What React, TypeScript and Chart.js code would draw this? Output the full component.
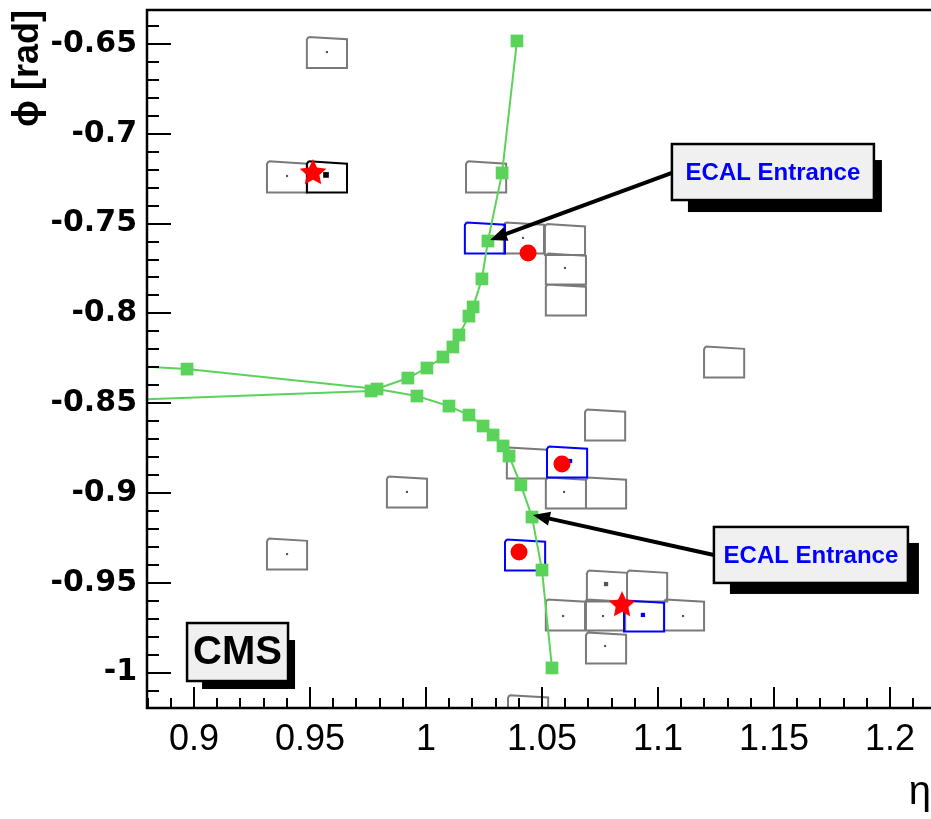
import React, { useEffect, useRef } from 'react';
import { Chart, registerables } from 'chart.js';

Chart.register(...registerables);

// ---------- axis ranges & ticks ----------
const X_MIN = 0.87974;
const X_MAX = 1.21767;
const Y_MIN = -1.01971;
const Y_MAX = -0.63107;

const xTickValues = [0.9, 0.95, 1.0, 1.05, 1.1, 1.15, 1.2];
const xTickLabels = ['0.9', '0.95', '1', '1.05', '1.1', '1.15', '1.2'];
const yTickValues = [-0.65, -0.7, -0.75, -0.8, -0.85, -0.9, -0.95, -1.0];
const yTickLabels = ['-0.65', '-0.7', '-0.75', '-0.8', '-0.85', '-0.9', '-0.95', '-1'];

// ---------- ECAL crystals (centres, eta / phi) ----------
const grayCellEta = [0.9573, 0.9401, 1.0259, 1.0422, 1.0599, 1.0603, 1.0603, 1.1285, 1.0772, 1.0435, 1.0603, 1.0776, 1.078, 1.0953, 1.0603, 1.0772, 1.1112, 1.0776, 0.9918, 0.9401, 1.044];
const grayCellPhi = [-0.6547, -0.724, -0.724, -0.758, -0.7589, -0.7753, -0.7925, -0.8271, -0.8621, -0.8833, -0.9, -0.9, -0.9518, -0.9518, -0.9679, -0.9679, -0.9679, -0.9863, -0.8994, -0.934, -1.0212];
const seedCellEta = [0.9573];
const seedCellPhi = [-0.724];
const blueCellEta = [1.0254, 1.0608, 1.0427, 1.094];
const blueCellPhi = [-0.758, -0.8827, -0.9345, -0.9685];

// energy deposits inside crystals
const hitEta = [0.9573, 0.9401, 1.0599, 1.0595, 1.0591, 1.0763, 1.1108, 1.0772, 0.9918, 0.9401, 1.0418];
const hitPhi = [-0.6545, -0.7235, -0.7747, -0.8994, -0.9685, -0.9685, -0.9685, -0.9852, -0.8994, -0.934, -0.758];
const bigHitEta = [1.0776];
const bigHitPhi = [-0.9507];
const blueHitEta = [1.0621, 1.0935];
const blueHitPhi = [-0.8822, -0.9679];
const seedHitEta = [0.9569];
const seedHitPhi = [-0.7229];

// ---------- tracks (green) ----------
const track1Eta = [0.8595, 0.9763, 0.9922, 1.0004, 1.0073, 1.0116, 1.0142, 1.0185, 1.0203, 1.0241, 1.0267, 1.0328, 1.0392];
const track1Phi = [-0.8488, -0.8432, -0.836, -0.8304, -0.8243, -0.8187, -0.812, -0.8015, -0.7964, -0.7808, -0.7597, -0.7218, -0.6483];
const track2Eta = [0.8595, 0.897, 0.9789, 0.9961, 1.0099, 1.0185, 1.0246, 1.0289, 1.0332, 1.0358, 1.0409, 1.0457, 1.05, 1.0543];
const track2Phi = [-0.8282, -0.831, -0.8421, -0.846, -0.8516, -0.8566, -0.8627, -0.8677, -0.8738, -0.8794, -0.8955, -0.9134, -0.9429, -0.9974];

// ---------- clusters ----------
const clusterEta = [1.044, 1.0586, 1.0401];
const clusterPhi = [-0.7664, -0.8838, -0.9328];
const seedStarEta = [0.9513, 1.0845];
const seedStarPhi = [-0.7218, -0.9624];

// ---------- annotations ----------
const arrowFromEta = [1.106, 1.1241];
const arrowFromPhi = [-0.7218, -0.9345];
const arrowToEta = [1.0276, 1.0461];
const arrowToPhi = [-0.7591, -0.9122];

const boxLabels = ['ECAL Entrance', 'ECAL Entrance', 'CMS'];
const boxEta = [1.106, 1.1241, 0.897];
const boxPhi = [-0.7057, -0.9189, -0.9724];

// ---------- styles ----------
const CELL_HALF = 0.00865;
const GREEN = '#5bd35b';
const boxWidths = [202, 194, 101];
const boxHeights = [56, 56, 58];
const boxShadow = [[16, 16, 8, 12], [16, 16, 11, 11], [15, 17, 7, 8]];
const boxTextColor = ['#0000ff', '#0000ff', '#000000'];
const boxFont = ['bold 24px "Liberation Sans", Arial', 'bold 24px "Liberation Sans", Arial', 'bold 40px "Liberation Sans", Arial'];

function cellPolygons(etas: number[], phis: number[]) {
  const pts: { x: number; y: number | null }[] = [];
  etas.forEach((e, i) => {
    const p = phis[i];
    const h = CELL_HALF;
    pts.push({ x: e - h + 0.0007, y: p + h });
    pts.push({ x: e + h, y: p + h - 0.0013 });
    pts.push({ x: e + h, y: p - h });
    pts.push({ x: e - h, y: p - h });
    pts.push({ x: e - h, y: p + h - 0.0015 });
    pts.push({ x: e - h + 0.0007, y: p + h });
    pts.push({ x: e, y: null });
  });
  return pts;
}

function pointsOf(etas: number[], phis: number[]) {
  return etas.map((e, i) => ({ x: e, y: phis[i] }));
}

function makeStar(size: number, color: string) {
  const c = document.createElement('canvas');
  c.width = size;
  c.height = size;
  const g = c.getContext('2d')!;
  g.fillStyle = color;
  g.beginPath();
  const cx = size / 2, cy = size / 2, R = size / 2, r = R * 0.48;
  for (let i = 0; i < 10; i++) {
    const a = -Math.PI / 2 + (i * Math.PI) / 5;
    const rad = i % 2 ? r : R;
    g.lineTo(cx + rad * Math.cos(a), cy + rad * Math.sin(a));
  }
  g.closePath();
  g.fill();
  return c;
}

function zeroPadding(s: any) {
  s.paddingTop = 0;
  s.paddingBottom = 0;
  s.paddingLeft = 0;
  s.paddingRight = 0;
}

const framePlugin = {
  id: 'rootFrame',
  afterDatasetsDraw(chart: any) {
    const ctx = chart.ctx;
    const { left, right, top, bottom } = chart.chartArea;
    const xs = chart.scales.x;
    const ys = chart.scales.y;
    ctx.save();
    // frame
    ctx.strokeStyle = '#000';
    ctx.lineWidth = 2.5;
    ctx.beginPath();
    ctx.moveTo(right + 2, top);
    ctx.lineTo(left, top);
    ctx.lineTo(left, bottom);
    ctx.lineTo(right + 2, bottom);
    ctx.stroke();
    // y ticks (inward)
    ctx.lineWidth = 2;
    for (let k = Math.ceil(Y_MIN * 100); k <= Math.floor(Y_MAX * 100); k++) {
      const py = Math.round(ys.getPixelForValue(k / 100));
      const major = k % 5 === 0;
      ctx.beginPath();
      ctx.moveTo(left, py);
      ctx.lineTo(left + (major ? 24 : 12), py);
      ctx.stroke();
    }
    // x ticks (inward)
    for (let k = Math.ceil(X_MIN * 100); k <= Math.floor(X_MAX * 100); k++) {
      const px = Math.round(xs.getPixelForValue(k / 100));
      const major = k % 5 === 0;
      ctx.beginPath();
      ctx.moveTo(px, bottom);
      ctx.lineTo(px, bottom - (major ? 21 : 10));
      ctx.stroke();
    }
    // arrows
    for (let i = 0; i < arrowFromEta.length; i++) {
      const x0 = xs.getPixelForValue(arrowFromEta[i]);
      const y0 = ys.getPixelForValue(arrowFromPhi[i]);
      const x1 = xs.getPixelForValue(arrowToEta[i]);
      const y1 = ys.getPixelForValue(arrowToPhi[i]);
      const ang = Math.atan2(y1 - y0, x1 - x0);
      const hl = 17, hw = 7;
      ctx.strokeStyle = '#000';
      ctx.lineWidth = 4;
      ctx.beginPath();
      ctx.moveTo(x0, y0);
      ctx.lineTo(x1 - Math.cos(ang) * hl * 0.8, y1 - Math.sin(ang) * hl * 0.8);
      ctx.stroke();
      ctx.fillStyle = '#000';
      ctx.beginPath();
      ctx.moveTo(x1, y1);
      ctx.lineTo(x1 - Math.cos(ang) * hl - Math.sin(ang) * hw, y1 - Math.sin(ang) * hl + Math.cos(ang) * hw);
      ctx.lineTo(x1 - Math.cos(ang) * hl + Math.sin(ang) * hw, y1 - Math.sin(ang) * hl - Math.cos(ang) * hw);
      ctx.closePath();
      ctx.fill();
    }
    // boxes
    for (let i = 0; i < boxLabels.length; i++) {
      const bx = xs.getPixelForValue(boxEta[i]);
      const by = ys.getPixelForValue(boxPhi[i]);
      const w = boxWidths[i], h = boxHeights[i];
      const [sl, st, sr, sb] = boxShadow[i];
      ctx.fillStyle = '#000';
      ctx.fillRect(bx + sl, by + st, w - sl + sr, h - st + sb);
      ctx.fillStyle = '#f0f0f0';
      ctx.fillRect(bx, by, w, h);
      ctx.strokeStyle = '#000';
      ctx.lineWidth = 2.5;
      ctx.strokeRect(bx, by, w, h);
      ctx.fillStyle = boxTextColor[i];
      ctx.font = boxFont[i];
      ctx.textAlign = 'center';
      ctx.textBaseline = 'middle';
      ctx.fillText(boxLabels[i], bx + w / 2, by + h / 2 + 1);
    }
    ctx.restore();
  },
};

export default function App() {
  const ref = useRef<HTMLCanvasElement | null>(null);

  useEffect(() => {
    if (!ref.current) return;
    const star = makeStar(28, '#ff0000');
    const chart = new Chart(ref.current, {
      type: 'scatter',
      data: {
        datasets: [
          {
            label: 'seed crystals',
            data: pointsOf(seedStarEta, seedStarPhi),
            pointStyle: star as any,
            pointRadius: 14,
            showLine: false,
            order: 0,
          },
          {
            label: 'clusters',
            data: pointsOf(clusterEta, clusterPhi),
            pointStyle: 'circle',
            pointRadius: 8.5,
            backgroundColor: '#ff0000',
            borderWidth: 0,
            showLine: false,
            order: 1,
          },
          {
            label: 'track 1',
            data: pointsOf(track1Eta, track1Phi),
            showLine: true,
            borderColor: GREEN,
            borderWidth: 2,
            pointStyle: 'rect',
            pointRadius: 9,
            backgroundColor: GREEN,
            pointBorderWidth: 0,
            order: 2,
          },
          {
            label: 'track 2',
            data: pointsOf(track2Eta, track2Phi),
            showLine: true,
            borderColor: GREEN,
            borderWidth: 2,
            pointStyle: 'rect',
            pointRadius: 9,
            backgroundColor: GREEN,
            pointBorderWidth: 0,
            order: 2,
          },
          {
            label: 'hits',
            data: pointsOf(hitEta, hitPhi),
            pointStyle: 'rect',
            pointRadius: 1.5,
            backgroundColor: '#555',
            borderWidth: 0,
            showLine: false,
            order: 3,
          },
          {
            label: 'big hit',
            data: pointsOf(bigHitEta, bigHitPhi),
            pointStyle: 'rect',
            pointRadius: 3,
            backgroundColor: '#555',
            borderWidth: 0,
            showLine: false,
            order: 3,
          },
          {
            label: 'blue hits',
            data: pointsOf(blueHitEta, blueHitPhi),
            pointStyle: 'rect',
            pointRadius: 3,
            backgroundColor: '#0000ff',
            borderWidth: 0,
            showLine: false,
            order: 3,
          },
          {
            label: 'seed hit',
            data: pointsOf(seedHitEta, seedHitPhi),
            pointStyle: 'rect',
            pointRadius: 4,
            backgroundColor: '#000',
            borderWidth: 0,
            showLine: false,
            order: 3,
          },
          {
            label: 'blue cells',
            data: cellPolygons(blueCellEta, blueCellPhi) as any,
            showLine: true,
            spanGaps: false,
            borderColor: '#0000ff',
            borderWidth: 2,
            pointRadius: 0,
            order: 4,
          },
          {
            label: 'seed cell',
            data: cellPolygons(seedCellEta, seedCellPhi) as any,
            showLine: true,
            spanGaps: false,
            borderColor: '#000',
            borderWidth: 2,
            pointRadius: 0,
            order: 5,
          },
          {
            label: 'cells',
            data: cellPolygons(grayCellEta, grayCellPhi) as any,
            showLine: true,
            spanGaps: false,
            borderColor: '#7a7a7a',
            borderWidth: 2,
            pointRadius: 0,
            order: 6,
          },
        ],
      },
      options: {
        animation: false,
        responsive: false,
        devicePixelRatio: 1,
        layout: { autoPadding: false, padding: { top: 10, right: 0, left: 0, bottom: 0 } },
        plugins: { legend: { display: false }, tooltip: { enabled: false } },
        scales: {
          x: {
            type: 'linear',
            min: X_MIN,
            max: X_MAX,
            grid: { display: false, drawTicks: false },
            border: { display: false },
            afterBuildTicks: (s: any) => {
              s.ticks = xTickValues.map((v) => ({ value: v }));
            },
            afterFit: (s: any) => {
              s.height = 111;
              zeroPadding(s);
            },
            ticks: {
              autoSkip: false,
              maxRotation: 0,
              padding: 10,
              color: '#000',
              font: { family: '"Liberation Sans", Arial', size: 36 },
              callback: (_v: any, i: number) => xTickLabels[i],
            },
            title: {
              display: true,
              text: 'η',
              align: 'end',
              color: '#000',
              font: { family: '"Liberation Sans", Arial', size: 40 },
              padding: { top: 0, bottom: 2 },
            },
          },
          y: {
            type: 'linear',
            min: Y_MIN,
            max: Y_MAX,
            grid: { display: false, drawTicks: false },
            border: { display: false },
            afterBuildTicks: (s: any) => {
              s.ticks = yTickValues.map((v) => ({ value: v }));
            },
            afterFit: (s: any) => {
              s.width = 147;
              zeroPadding(s);
            },
            ticks: {
              autoSkip: false,
              padding: 10,
              color: '#000',
              font: { family: '"DejaVu Sans"', size: 30, weight: 'bold' },
              callback: (_v: any, i: number) => yTickLabels[i],
            },
            title: {
              display: true,
              text: 'ϕ [rad]',
              align: 'end',
              color: '#000',
              font: { family: '"Liberation Sans", "DejaVu Sans"', size: 36, weight: 'bold' },
              padding: { top: 6, bottom: 0 },
            },
          },
        },
      },
      plugins: [framePlugin],
    } as any);
    return () => chart.destroy();
  }, []);

  return (
    <div style={{ position: 'absolute', left: 0, top: 0, width: 931, height: 819, background: '#fff' }}>
      <canvas ref={ref} width={931} height={819} style={{ display: 'block' }} />
    </div>
  );
}
